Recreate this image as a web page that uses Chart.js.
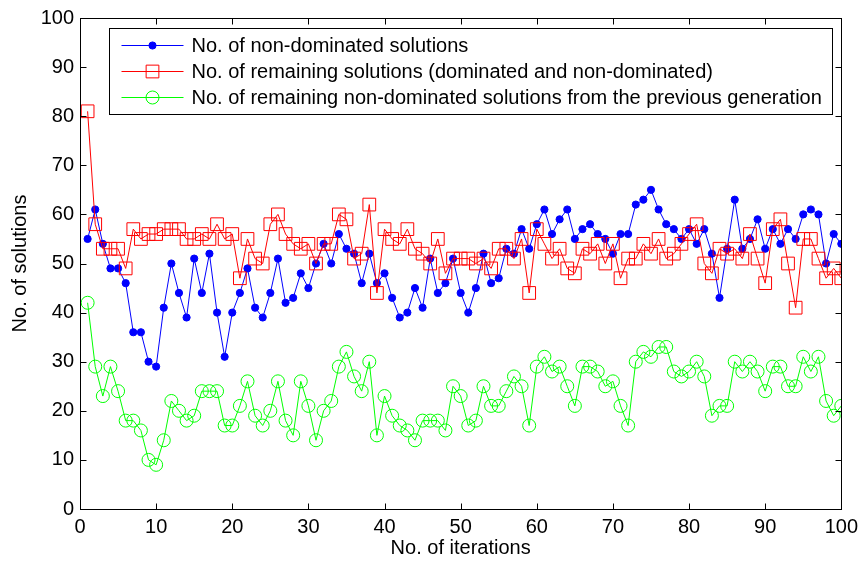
<!DOCTYPE html>
<html lang="en">
  <head>
    <meta charset="UTF-8" />
    <title>No. of solutions per iteration</title>
    <script src="https://cdn.jsdelivr.net/npm/chart.js"></script>
    <style>
      body { margin: 0; background: #fff; }
      canvas { display: block; }
    </style>
  </head>
  <body>
    <canvas id="solutionsChart" width="864" height="565"></canvas>
    <script>
      // iteration index 1..100
      const iterations = Array.from({ length: 100 }, (_, i) => i + 1);

      const nonDominated = [
        55, 61, 54, 49, 49, 46, 36, 36, 30, 29,
        41, 50, 44, 39, 51, 44, 52, 40, 31, 40,
        44, 49, 41, 39, 44, 51, 42, 43, 48, 45,
        50, 54, 50, 56, 53, 52, 46, 52, 46, 48,
        43, 39, 40, 45, 41, 51, 44, 46, 51, 44,
        40, 45, 52, 46, 47, 53, 52, 57, 53, 58,
        61, 56, 59, 61, 55, 57, 58, 56, 55, 52,
        56, 56, 62, 63, 65, 61, 58, 57, 55, 57,
        54, 57, 52, 43, 53, 63, 53, 55, 59, 53,
        57, 54, 57, 55, 60, 61, 60, 50, 56, 54
      ];

      const remaining = [
        81, 58, 53, 53, 53, 49, 57, 55, 56, 56,
        57, 57, 57, 55, 55, 56, 55, 58, 55, 56,
        47, 55, 51, 50, 58, 60, 56, 54, 53, 54,
        50, 54, 54, 60, 59, 51, 52, 62, 44, 57,
        55, 54, 57, 53, 52, 50, 55, 48, 51, 51,
        51, 50, 51, 49, 53, 53, 51, 55, 44, 57,
        54, 51, 53, 49, 48, 53, 52, 54, 50, 54,
        47, 51, 51, 54, 52, 55, 51, 52, 54, 56,
        58, 50, 48, 53, 52, 53, 51, 56, 51, 46,
        57, 59, 50, 41, 55, 55, 51, 47, 49, 47
      ];

      const fromPrevious = [
        42, 29, 23, 29, 24, 18, 18, 16, 10, 9,
        14, 22, 20, 18, 19, 24, 24, 24, 17, 17,
        21, 26, 19, 17, 20, 26, 18, 15, 26, 21,
        14, 20, 22, 29, 32, 27, 24, 30, 15, 23,
        19, 17, 16, 14, 18, 18, 18, 16, 25, 23,
        17, 18, 25, 21, 21, 24, 27, 25, 17, 29,
        31, 28, 29, 25, 21, 29, 29, 28, 25, 26,
        21, 17, 30, 32, 31, 33, 33, 28, 27, 28,
        30, 27, 19, 21, 21, 30, 28, 30, 28, 24,
        29, 29, 25, 25, 31, 28, 31, 22, 19, 21
      ];

      const seriesNames = [
        "No. of non-dominated solutions",
        "No. of remaining solutions (dominated and non-dominated)",
        "No. of remaining non-dominated solutions from the previous generation",
      ];

      const FONT = "'Liberation Sans', Arial, sans-serif";

      const toPoints = (values) => values.map((v, i) => ({ x: iterations[i], y: v }));

      // boxed axes with inward ticks on all four sides
      const boxPlugin = {
        id: "box",
        afterDraw(chart) {
          const { ctx, chartArea: a, scales } = chart;
          const L = Math.round(a.left) + 0.5;
          const R = Math.round(a.right) + 0.5;
          const T = Math.round(a.top) + 0.5;
          const B = Math.round(a.bottom) + 0.5;
          ctx.save();
          ctx.strokeStyle = "#000";
          ctx.lineWidth = 1;
          ctx.beginPath();
          scales.x.ticks.forEach((t) => {
            const px = Math.round(scales.x.getPixelForValue(t.value)) + 0.5;
            ctx.moveTo(px, B); ctx.lineTo(px, B - 6);
            ctx.moveTo(px, T); ctx.lineTo(px, T + 6);
          });
          scales.y.ticks.forEach((t) => {
            const py = Math.round(scales.y.getPixelForValue(t.value)) + 0.5;
            ctx.moveTo(L, py); ctx.lineTo(L + 6, py);
            ctx.moveTo(R, py); ctx.lineTo(R - 6, py);
          });
          ctx.stroke();
          ctx.strokeRect(L, T, R - L, B - T);
          ctx.restore();
        },
      };

      // legend box in the upper part of the plot
      const legendPlugin = {
        id: "boxLegend",
        afterDraw(chart) {
          const { ctx, chartArea: a } = chart;
          const left = Math.round(a.left + 29) + 0.5;
          const top = Math.round(a.top + 10) + 0.5;
          const right = Math.round(a.right - 9) + 0.5;
          const height = 86;
          ctx.save();
          ctx.fillStyle = "#fff";
          ctx.fillRect(left, top, right - left, height);
          ctx.strokeStyle = "#000";
          ctx.lineWidth = 1;
          ctx.strokeRect(left, top, right - left, height);
          chart.data.datasets.forEach((ds, i) => {
            const y = top + 17 + i * 26;
            const x1 = left + 12, x2 = left + 74, xm = (x1 + x2) / 2;
            ctx.strokeStyle = ds.borderColor;
            ctx.lineWidth = 1;
            ctx.beginPath();
            ctx.moveTo(x1, y);
            ctx.lineTo(x2, y);
            ctx.stroke();
            ctx.fillStyle = ds.pointBackgroundColor;
            ctx.strokeStyle = ds.pointBorderColor;
            Chart.helpers.drawPoint(ctx, {
              pointStyle: ds.pointStyle,
              radius: ds.pointRadius,
              borderWidth: 1,
              rotation: 0,
            }, xm, y);
            ctx.fillStyle = "#000";
            ctx.font = "20px " + FONT;
            ctx.textBaseline = "middle";
            ctx.textAlign = "left";
            ctx.fillText(seriesNames[i], left + 82, y + 1);
          });
          ctx.restore();
        },
      };

      new Chart(document.getElementById("solutionsChart"), {
        type: "line",
        data: {
          datasets: [
            {
              label: seriesNames[0],
              data: toPoints(nonDominated),
              borderColor: "#0000ff",
              borderWidth: 1,
              pointStyle: "circle",
              pointRadius: 3.6,
              pointBackgroundColor: "#0000ff",
              pointBorderColor: "#0000ff",
              pointBorderWidth: 1,
              order: 3,
            },
            {
              label: seriesNames[1],
              data: toPoints(remaining),
              borderColor: "#ff0000",
              borderWidth: 1,
              pointStyle: "rect",
              pointRadius: 9,
              pointBackgroundColor: "rgba(0,0,0,0)",
              pointBorderColor: "#ff0000",
              pointBorderWidth: 1,
              order: 2,
            },
            {
              label: seriesNames[2],
              data: toPoints(fromPrevious),
              borderColor: "#00ff00",
              borderWidth: 1,
              pointStyle: "circle",
              pointRadius: 6.5,
              pointBackgroundColor: "rgba(0,0,0,0)",
              pointBorderColor: "#00ff00",
              pointBorderWidth: 1,
              order: 1,
            },
          ],
        },
        options: {
          responsive: false,
          animation: false,
          devicePixelRatio: 1,
          layout: { padding: { left: 0, right: 22, top: 16, bottom: 0 } },
          plugins: { legend: { display: false }, tooltip: { enabled: false } },
          scales: {
            x: {
              type: "linear",
              min: 0,
              max: 100,
              grid: { display: false, drawTicks: false },
              border: { display: false },
              ticks: {
                stepSize: 10,
                maxRotation: 0,
                padding: 6,
                color: "#000",
                font: { family: FONT, size: 20 },
              },
              title: {
                display: true,
                text: "No. of iterations",
                color: "#000",
                font: { family: FONT, size: 20 },
                padding: { top: 0, bottom: 5 },
              },
              afterFit(scale) { scale.height = 56; },
            },
            y: {
              min: 0,
              max: 100,
              grid: { display: false, drawTicks: false },
              border: { display: false },
              ticks: {
                stepSize: 10,
                padding: 6,
                color: "#000",
                font: { family: FONT, size: 20 },
              },
              title: {
                display: true,
                text: "No. of solutions",
                color: "#000",
                font: { family: FONT, size: 20 },
                padding: { top: 8, bottom: 0 },
              },
              afterFit(scale) { scale.width = 80; },
            },
          },
        },
        plugins: [boxPlugin, legendPlugin],
      });
    </script>
  </body>
</html>
